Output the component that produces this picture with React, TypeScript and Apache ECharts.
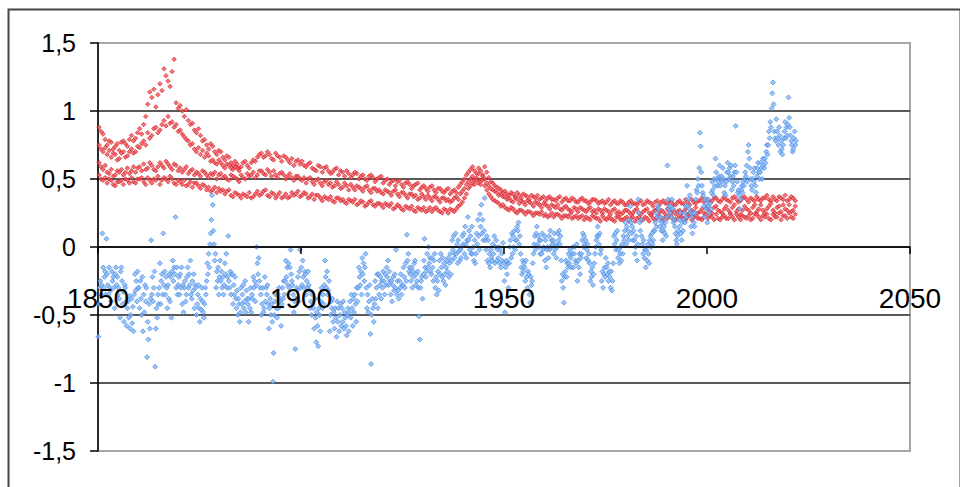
import React, { useEffect, useRef } from "react";
import * as echarts from "echarts";

// ---- blue: monthly anomalies, 6 readings per year ----
const blue1850 = [-.66,-.42,-.30,-.25,-.35,-.28, .10,-.15,-.30,-.22,-.18,-.35, .06,-.20,-.28,-.35,-.15,-.30, -.32,-.40,-.18,-.25,-.22,-.30, -.45,-.20,-.15,-.28,-.22,-.35, -.30,-.38,-.52,-.18,-.15,-.25, -.42,-.33,-.55,-.28,-.30,-.40, -.58,-.45,-.40,-.52,-.36,-.60, -.50,-.38,-.56,-.44,-.62,-.35, -.20,-.32,-.25,-.40,-.18,-.30];
const blue1860 = [-.30,-.45,-.25,-.38,-.50,-.22, -.62,-.35,-.48,-.28,-.40,-.30, -.81,-.55,-.68,-.42,-.60,-.38, .05,-.35,-.22,-.40,-.30,-.18, -.88,-.60,-.45,-.52,-.35,-.42, -.30,-.12,-.42,-.25,-.20,-.35, .10,-.28,-.18,-.35,-.22,-.30, -.45,-.28,-.38,-.20,-.40,-.22, -.52,-.18,-.10,-.25,-.15,-.20, .22,-.30,-.15,-.35,-.28,-.22];
const blue1870 = [-.35,-.20,-.30,-.15,-.42,-.28, -.48,-.30,-.25,-.40,-.35,-.22, -.15,-.30,-.20,-.28,-.10,-.35, -.38,-.25,-.32,-.20,-.45,-.28, -.30,-.50,-.42,-.35,-.28,-.45, -.55,-.38,-.46,-.30,-.40,-.48, -.52,-.42,-.30,-.35,-.25,-.12, -.20,-.05,-.15,.02,.10,.20, .38,.31,.12,.02,-.10,-.05, -.30,-.18,-.25,-.15,-.35,-.22];
const blue1880 = [-.10,-.25,-.18,-.30,-.22,-.35, -.28,-.12,-.20,-.05,-.30,-.22, .08,-.25,-.30,-.18,-.35,-.20, -.20,-.42,-.28,-.35,-.22,-.38, -.45,-.32,-.50,-.38,-.42,-.55, -.48,-.30,-.42,-.35,-.28,-.45, -.40,-.25,-.48,-.32,-.38,-.42, -.55,-.38,-.45,-.30,-.48,-.35, -.38,-.22,-.30,-.25,-.40,-.28, .00,-.12,-.20,-.08,-.25,-.30];
const blue1890 = [-.35,-.50,-.42,-.30,-.48,-.45, -.22,-.40,-.30,-.35,-.28,-.42, -.60,-.45,-.38,-.50,-.42,-.55, -.99,-.78,-.50,-.40,-.35,-.45, -.52,-.35,-.45,-.30,-.40,-.38, -.58,-.42,-.30,-.38,-.25,-.35, -.25,-.10,-.22,-.15,-.28,-.12, -.30,-.15,-.02,-.20,-.25,-.28, -.35,-.48,-.40,-.75,-.38,-.30, -.32,-.22,-.40,-.18,-.02,-.30];
const blue1900 = [-.15,-.28,-.10,-.22,-.30,-.18, -.20,-.35,-.25,-.30,-.18,-.28, -.32,-.45,-.40,-.50,-.35,-.42, -.45,-.60,-.38,-.52,-.70,-.48, -.58,-.73,-.45,-.50,-.62,-.40, -.30,-.45,-.35,-.42,-.28,-.10, -.22,-.30,-.18,-.35,-.32,-.25, -.62,-.50,-.40,-.45,-.38,-.55, -.48,-.60,-.45,-.52,-.66,-.40, -.55,-.45,-.62,-.50,-.42,-.58];
const blue1910 = [-.45,-.55,-.40,-.60,-.48,-.52, -.58,-.65,-.50,-.45,-.62,-.48, -.40,-.52,-.35,-.45,-.58,-.38, -.48,-.35,-.42,-.55,-.30,-.40, -.30,-.15,-.22,-.28,-.18,-.35, -.08,-.20,-.12,-.25,-.15,-.05, -.30,-.45,-.35,-.48,-.40,-.28, -.64,-.86,-.50,-.38,-.45,-.55, -.42,-.25,-.38,-.30,-.20,-.45, -.20,-.35,-.28,-.22,-.38,-.25];
const blue1920 = [-.30,-.18,-.25,-.35,-.20,-.28, -.15,-.22,-.10,-.28,-.18,-.25, -.35,-.25,-.40,-.28,-.22,-.32, -.20,-.30,-.02,-.35,-.25,-.32, -.38,-.25,-.30,-.20,-.35,-.28, -.28,-.15,-.22,-.30,-.12,-.25, .09,-.10,-.05,-.18,-.15,-.20, -.25,-.15,-.30,-.18,-.22,-.12, -.10,-.28,-.20,-.25,-.18,-.30, -.51,-.68,-.30,-.25,-.22,-.38];
const blue1930 = [-.20,-.10,.06,-.15,-.22,-.18, -.05,-.15,.00,-.12,-.08,-.18, -.20,-.08,-.15,-.25,-.10,-.05, -.30,-.22,-.35,-.25,-.18,-.32, -.10,-.20,-.05,-.15,-.22,-.08, -.25,-.12,-.20,-.28,-.15,-.10, -.18,-.08,-.22,-.12,-.05,-.20, -.10,.05,-.02,.08,-.08,-.05, .10,-.05,.02,-.12,.05,-.03, -.10,-.02,-.08,.00,.08,.02];
const blue1940 = [.10,-.05,.15,.02,-.08,.05, .22,.05,.12,-.02,.08,-.05, .15,-.05,.00,-.10,.05,-.12, -.05,.10,.02,.20,.08,-.02, .24,.15,.31,.10,.20,.05, .12,.36,.05,-.02,.08,-.10, .05,-.12,-.05,-.15,-.02,-.08, -.10,.02,-.05,.08,-.12,.00, .05,-.10,-.02,-.08,.00,-.12, -.02,-.15,-.05,-.10,.03,-.12];
const blue1950 = [-.25,-.48,-.15,-.10,-.20,-.12, -.30,-.12,.00,.05,-.08,.10, -.05,.08,.00,.12,-.02,.05, .05,.15,.12,.18,.02,.08, -.05,-.15,-.20,-.10,-.18,-.12, -.15,-.25,-.10,-.22,-.30,-.18, -.20,-.35,-.41,-.22,-.28,-.25, -.12,-.05,.02,.08,-.02,.10, .15,.02,.08,.00,.05,-.05, .05,-.05,.10,-.02,.00,.08];
const blue1960 = [-.10,.05,-.15,-.02,.00,-.08, .08,-.02,.12,.00,.05,.02, .05,-.05,.10,-.02,.02,-.08, .00,.10,.05,.12,.02,.08, -.10,-.25,-.20,-.30,-.41,-.22, -.18,-.10,-.22,-.12,-.15,-.05, -.12,-.02,-.08,-.15,-.05,.00, -.15,-.05,.00,-.10,-.12,.02, -.25,-.10,-.15,-.05,-.20,-.08, -.05,.05,.10,.00,.08,.02];
const blue1970 = [.05,-.08,-.02,.02,-.10,-.05, -.12,-.25,-.18,-.22,-.15,-.28, -.20,-.12,-.05,.00,.05,.08, .15,.08,.02,.10,-.05,-.02, -.25,-.18,-.30,-.20,-.15,-.22, -.08,-.15,-.20,-.12,-.25,-.18, -.22,-.30,-.18,-.32,-.25,-.12, .08,.02,.10,-.02,.05,.12, -.08,-.02,-.12,-.05,.00,-.10, .02,-.05,.08,.05,.12,.18];
const blue1980 = [.02,.15,.08,.12,.05,.20, .30,.18,.10,.15,.05,.12, .05,-.05,.00,.08,-.10,.02, .35,.25,.18,.12,.20,.08, .02,-.05,.05,-.08,-.02,-.15, -.02,-.10,.02,-.05,-.12,.05, .08,.00,.10,.02,.05,.12, .12,.18,.25,.15,.22,.30, .28,.20,.15,.22,.12,.18, .05,.12,.15,.10,.18,.08];
const blue1990 = [.22,.60,.35,.28,.30,.25, .30,.22,.35,.28,.18,.20, .15,.10,.05,.02,.08,.12, .20,.15,.25,.10,.05,.18, .12,.20,.25,.18,.30,.22, .45,.30,.35,.28,.38,.25, .15,.22,.10,.25,.18,.15, .25,.35,.42,.40,.50,.45, .58,.84,.74,.55,.45,.40, .38,.30,.22,.35,.28,.32];
const blue2000 = [.18,.35,.30,.25,.32,.28, .40,.48,.42,.38,.50,.45, .65,.55,.50,.45,.48,.52, .60,.45,.50,.52,.48,.58, .50,.40,.45,.38,.48,.55, .62,.55,.50,.58,.52,.60, .42,.48,.52,.45,.55,.60, .89,.55,.48,.40,.42,.38, .28,.35,.42,.45,.40,.48, .45,.50,.55,.52,.60,.48];
const blue2010 = [.70,.75,.65,.58,.50,.45, .42,.50,.55,.48,.58,.45, .40,.52,.58,.62,.55,.50, .55,.62,.58,.50,.65,.60, .58,.65,.62,.70,.75,.68, .75,.85,.80,.92,.88,1.02, 1.13,1.21,1.05,.85,.80,.78, .94,.85,.80,.75,.88,.82, .70,.78,.72,.68,.75,.80, .85,.92,.80,.88,.82,.90];
const blue2020 = [1.10,.95,.88,.82,.78,.75, .70,.72,.80,.85,.75,.78];

// ---- red: uncertainty bands, 2 readings per year ----
const redTop1850 = [.88,.85,.83,.79,.75,.78,.77,.72,.74,.76,.71,.77,.78,.76,.74,.79,.82,.78,.80,.84, .87,.83,.90,.96,1.05,1.14,1.10,1.16,1.03,1.12,1.20,1.15,1.31,1.26,1.22,1.18,1.29,1.38,1.06,1.02, 1.04,1.00,.96,1.01,.93,.90,.91,.86,.84,.87,.82,.78,.79,.75,.72,.76,.74,.70,.68,.71, .70,.66,.64,.67,.66,.62,.60,.63,.61,.58,.59,.62,.63,.60,.58,.62,.64,.63,.66,.68, .69,.66,.67,.70,.68,.65,.64,.69,.67,.66,.63,.67,.66,.64,.62,.65,.60,.63,.64,.61];
const redTop1900 = [.63,.60,.59,.61,.62,.58,.57,.56,.60,.59,.55,.58,.59,.56,.54,.55,.57,.58,.53,.56, .55,.52,.56,.54,.51,.53,.55,.54,.50,.52,.53,.50,.49,.52,.53,.51,.48,.50,.51,.52, .47,.49,.50,.46,.48,.49,.45,.48,.49,.46,.44,.47,.48,.46,.43,.45,.46,.47,.42,.44, .45,.43,.41,.44,.45,.42,.40,.43,.43,.41,.40,.42,.43,.39,.41,.42,.40,.44,.46,.48, .50,.53,.55,.57,.59,.56,.54,.58,.56,.53,.59,.55,.51,.48,.47,.45,.44,.43,.42,.40];
const redTop1950 = [.41,.39,.38,.40,.39,.37,.40,.38,.36,.39,.38,.37,.35,.38,.37,.36,.38,.35,.36,.37, .34,.36,.37,.35,.35,.34,.36,.37,.33,.35,.36,.34,.34,.36,.35,.33,.33,.35,.36,.34, .34,.32,.33,.35,.35,.34,.32,.33,.34,.32,.33,.35,.31,.33,.34,.32,.32,.34,.33,.31, .31,.33,.34,.32,.32,.31,.33,.34,.31,.32,.34,.33,.32,.30,.33,.34,.31,.33,.34,.32, .32,.34,.33,.31,.31,.33,.34,.32,.32,.35,.33,.31,.35,.33,.32,.34,.34,.36,.33,.35];
const redTop2000 = [.35,.33,.34,.36,.36,.34,.33,.35,.37,.35,.34,.33,.36,.37,.35,.33,.34,.36,.37,.35, .33,.36,.35,.34,.37,.35,.34,.36,.36,.38,.35,.34,.37,.35,.34,.37,.36,.35,.38,.34, .35,.37,.36,.34];
const redUpper1850 = [.75,.72,.70,.73,.68,.71,.66,.69,.68,.64,.65,.69,.70,.66,.67,.70,.72,.69,.70,.74, .73,.76,.78,.75,.84,.80,.82,.87,.88,.84,.86,.90,.93,.89,.96,.91,.92,.88,.90,.85, .86,.83,.81,.79,.78,.75,.76,.72,.70,.73,.68,.71,.66,.69,.67,.63,.64,.62,.61,.64, .62,.60,.58,.61,.60,.58,.57,.59,.58,.56];
const redMid1850 = [.62,.59,.57,.60,.55,.54,.57,.52,.53,.56,.55,.57,.53,.55,.58,.54,.56,.59,.55,.58, .59,.56,.61,.57,.58,.62,.60,.57,.56,.59,.62,.60,.58,.63,.61,.59,.57,.61,.60,.56, .58,.55,.57,.59,.54,.56,.57,.53,.55,.54,.52,.56,.55,.53,.51,.54,.53,.55,.50,.53, .54,.51,.52,.50,.49,.53,.52,.51,.50,.48,.53,.51,.50,.54,.52,.53,.55,.51,.53,.56, .56,.54,.53,.57,.55,.52,.56,.53,.51,.54,.55,.53,.50,.52,.54,.51,.49,.52,.52,.50];
const redMid1900 = [.49,.51,.47,.50,.51,.48,.46,.49,.50,.47,.45,.48,.49,.46,.47,.44,.45,.48,.46,.43, .44,.47,.45,.42,.46,.44,.42,.45,.44,.43,.41,.44,.45,.42,.40,.43,.43,.41,.42,.40, .39,.42,.41,.40,.38,.41,.42,.39,.37,.40,.40,.38,.36,.39,.39,.37,.38,.35,.36,.39, .37,.35,.38,.36,.34,.37,.37,.35,.33,.36,.36,.34,.35,.33,.34,.36,.37,.35,.39,.41, .43,.46,.48,.50,.52,.49,.51,.54,.49,.52,.50,.47,.45,.43,.42,.41,.40,.38,.39,.37];
const redMid1950 = [.37,.35,.36,.34,.33,.36,.35,.32,.34,.33,.31,.34,.33,.32,.30,.33,.32,.31,.29,.32, .31,.30,.28,.31,.30,.29,.31,.28,.27,.29,.30,.28,.27,.26,.29,.28,.26,.29,.28,.27, .26,.28,.29,.26,.27,.25,.28,.27,.25,.28,.27,.26,.24,.27,.28,.25,.26,.24,.25,.27, .27,.26,.24,.25,.27,.28,.25,.24,.26,.27,.28,.25,.24,.26,.27,.28,.25,.27,.26,.24, .28,.26,.25,.27,.24,.26,.27,.25,.26,.28,.24,.25,.27,.26,.29,.25,.26,.28,.25,.29];
const redMid2000 = [.28,.26,.25,.29,.30,.27,.26,.25,.28,.30,.27,.25,.29,.31,.26,.28,.24,.27,.30,.28, .27,.25,.29,.31,.26,.28,.31,.27,.25,.28,.30,.32,.27,.25,.29,.30,.26,.31,.28,.27, .31,.26,.27,.30];
const redLow1850 = [.53,.50,.49,.51,.47,.50,.49,.46,.45,.48,.48,.49,.46,.50,.49,.47,.51,.48,.47,.50, .50,.51,.48,.46,.51,.49,.47,.50,.49,.52,.46,.49,.51,.50,.48,.52,.50,.47,.46,.49, .48,.46,.49,.45,.46,.48,.44,.47,.47,.45,.43,.46,.45,.42,.44,.41,.42,.44,.40,.43, .41,.42,.39,.41,.42,.38,.37,.40,.39,.38,.36,.39,.38,.37,.40,.36,.37,.39,.41,.38, .39,.41,.42,.38,.37,.40,.39,.36,.38,.40,.36,.37,.39,.36,.37,.40,.38,.39,.41,.37];
const redLow1900 = [.38,.40,.39,.36,.37,.39,.35,.38,.38,.36,.34,.37,.36,.35,.37,.34,.33,.36,.36,.34, .35,.33,.32,.35,.34,.33,.35,.31,.32,.34,.33,.30,.31,.33,.34,.31,.30,.32,.32,.31, .29,.32,.31,.30,.32,.28,.29,.31,.30,.28,.27,.30,.29,.28,.30,.27,.26,.29,.28,.27, .29,.26,.27,.29,.26,.28,.29,.27,.26,.25,.28,.27,.25,.28,.27,.26,.28,.30,.31,.33, .36,.39,.43,.45,.47,.46,.49,.47,.46,.49,.45,.42,.39,.37,.35,.34,.33,.32,.30,.31];
const redLow1950 = [.29,.28,.27,.29,.28,.26,.25,.27,.27,.26,.24,.26,.26,.25,.23,.25,.25,.24,.26,.23, .24,.22,.23,.25,.22,.24,.24,.23,.21,.23,.23,.22,.24,.21,.22,.23,.21,.22,.23,.20, .22,.21,.20,.23,.22,.21,.21,.19,.23,.21,.20,.22,.21,.20,.19,.22,.22,.20,.20,.21, .22,.19,.21,.22,.19,.21,.22,.20,.20,.22,.21,.19,.23,.21,.20,.22,.22,.21,.19,.22, .21,.23,.22,.20,.20,.21,.23,.22,.21,.20,.22,.23,.20,.22,.23,.21,.21,.20,.22,.24];
const redLow2000 = [.21,.23,.22,.20,.24,.21,.20,.22,.23,.21,.21,.24,.22,.20,.24,.22,.20,.23,.22,.21, .23,.20,.21,.24,.24,.22,.20,.23,.22,.24,.21,.20,.24,.22,.22,.25,.20,.23,.23,.21, .25,.22,.21,.24];

const yTickLabels: Record<string, string> = {
  "-1.5": "-1,5", "-1": "-1", "-0.5": "-0,5", "0": "0", "0.5": "0,5", "1": "1", "1.5": "1,5",
};

function dated(startYear: number, perYear: number, values: number[]): number[][] {
  return values.map((v, i) => [startYear + Math.floor(i / perYear) + ((i % perYear) + 0.5) / perYear, v]);
}

const blueDecades: [number, number[]][] = [
  [1850, blue1850], [1860, blue1860], [1870, blue1870], [1880, blue1880], [1890, blue1890],
  [1900, blue1900], [1910, blue1910], [1920, blue1920], [1930, blue1930], [1940, blue1940],
  [1950, blue1950], [1960, blue1960], [1970, blue1970], [1980, blue1980], [1990, blue1990],
  [2000, blue2000], [2010, blue2010], [2020, blue2020],
];

const redSets: [number, number[]][] = [
  [1850, redTop1850], [1900, redTop1900], [1950, redTop1950], [2000, redTop2000],
  [1850, redUpper1850],
  [1850, redMid1850], [1900, redMid1900], [1950, redMid1950], [2000, redMid2000],
  [1850, redLow1850], [1900, redLow1900], [1950, redLow1950], [2000, redLow2000],
];

export default function App() {
  const ref = useRef<HTMLDivElement>(null);
  useEffect(() => {
    if (!ref.current) return;
    const chart = echarts.init(ref.current, null, { renderer: "svg" });
    const redData = redSets.flatMap(([y, arr]) => dated(y, 2, arr));
    const blueData = blueDecades.flatMap(([y, arr]) => dated(y, 6, arr));
    const font = "'Liberation Sans', Arial, sans-serif";
    chart.setOption({
      animation: false,
      backgroundColor: "#fff",
      grid: {
        left: 98, right: 50, top: 43, bottom: 36,
        show: true, borderColor: "#a6a6a6", borderWidth: 2, backgroundColor: "transparent",
      },
      graphic: [
        {
          type: "rect", left: 6, top: 7,
          shape: { x: 0, y: 0, width: 952, height: 479 },
          style: { fill: "none", stroke: "#444", lineWidth: 2 },
          silent: true,
        },
      ],
      xAxis: {
        type: "value", min: 1850, max: 2050, interval: 50, z: 5,
        offset: -204,
        axisLine: { show: true, onZero: false, lineStyle: { color: "#000", width: 1.5 } },
        axisTick: { show: true, length: 7, lineStyle: { color: "#000", width: 1.5 } },
        axisLabel: {
          color: "#000", fontSize: 28, fontFamily: font, margin: 37,
          showMinLabel: true, showMaxLabel: true,
          formatter: (v: number) => String(v),
        },
        splitLine: { show: false },
      },
      yAxis: {
        type: "value", min: -1.5, max: 1.5, interval: 0.5,
        axisLine: { show: true, lineStyle: { color: "#000", width: 1.5 } },
        axisTick: { show: true, length: 8, lineStyle: { color: "#000", width: 1.5 } },
        axisLabel: {
          color: "#000", fontSize: 25, fontFamily: font, margin: 22,
          formatter: (v: number) => yTickLabels[String(v)] ?? String(v).replace(".", ","),
        },
        splitLine: {
          show: true,
          lineStyle: { color: ["#a6a6a6", "#222", "#222", "#222", "#222", "#222", "#a6a6a6"], width: 1.5 },
        },
      },
      series: [
        {
          type: "scatter", name: "uncertainty", data: redData, symbol: "diamond", symbolSize: 4.5,
          itemStyle: { color: "#ea5257", borderColor: "#d91c24", borderWidth: 0.8 },
        },
        {
          type: "scatter", name: "anomaly", data: blueData, symbol: "diamond", symbolSize: 5,
          itemStyle: { color: "#86b4f2", borderColor: "#3a84e6", borderWidth: 0.8 },
        },
      ],
    });
    return () => chart.dispose();
  }, []);
  return (
    <div
      ref={ref}
      style={{ position: "fixed", left: 0, top: 0, width: 960, height: 487, background: "#fff" }}
    />
  );
}
